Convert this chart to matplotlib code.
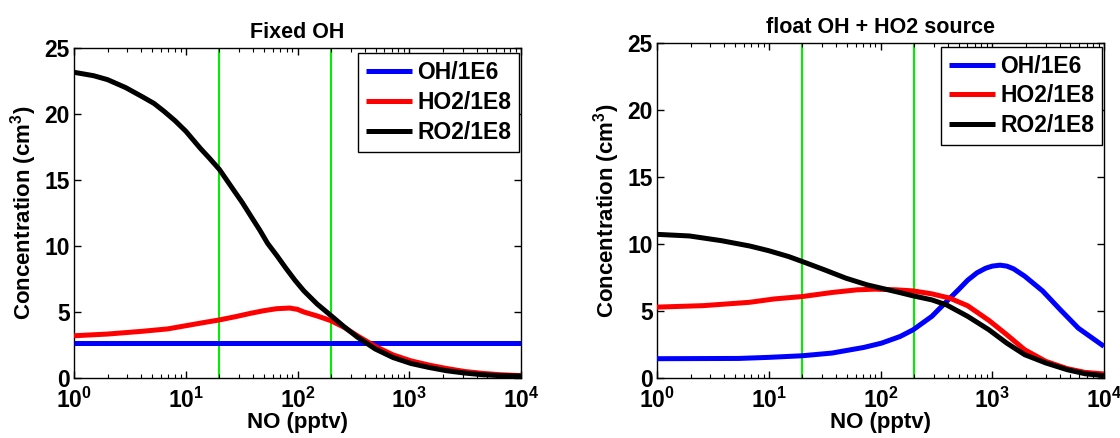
import matplotlib
matplotlib.use("Agg")
import matplotlib.pyplot as plt
import numpy as np

plt.rcParams['font.family'] = ['Liberation Sans', 'DejaVu Sans']
plt.rcParams['font.weight'] = 'bold'
plt.rcParams['mathtext.fontset'] = 'custom'
plt.rcParams['mathtext.rm'] = 'Liberation Sans:bold'
plt.rcParams['mathtext.bf'] = 'Liberation Sans:bold'
plt.rcParams['mathtext.it'] = 'Liberation Sans:bold'

# ---- data: left panel (Fixed OH) ----
left_ro2_x = [1, 1.5, 2, 2.9, 4.1, 5.2, 6.4, 8, 10, 13.5, 16.5, 20, 26, 32, 38, 46, 54, 65, 79, 95, 114, 150, 198, 260, 343, 496, 716, 1036, 1500, 2160, 3100, 4520, 6500, 10000]
left_ro2_y = [23.16, 22.9, 22.6, 22.0, 21.3, 20.8, 20.2, 19.5, 18.7, 17.4, 16.6, 15.8, 14.4, 13.3, 12.3, 11.2, 10.2, 9.3, 8.3, 7.4, 6.6, 5.6, 4.75, 3.9, 3.1, 2.2, 1.55, 1.1, 0.8, 0.55, 0.38, 0.25, 0.18, 0.15]
left_ho2_x = [1, 2, 4.1, 6.9, 10, 14.5, 20, 28, 38, 50, 65, 85, 100, 114, 150, 198, 260, 343, 496, 716, 1036, 1500, 2160, 3100, 4520, 6500, 10000]
left_ho2_y = [3.2, 3.33, 3.54, 3.72, 3.96, 4.2, 4.4, 4.65, 4.9, 5.1, 5.25, 5.3, 5.2, 5.0, 4.7, 4.35, 3.85, 3.2, 2.4, 1.75, 1.3, 0.98, 0.72, 0.5, 0.35, 0.25, 0.18]
left_oh_x = [1, 10000]
left_oh_y = [2.65, 2.65]

# ---- data: right panel (float OH + HO2 source) ----
right_ro2_x = [1, 1.95, 3.76, 6.76, 10, 15.1, 20, 31.6, 49, 76, 102, 148, 196, 288, 389, 603, 933, 1350, 1950, 3020, 4680, 6760, 10000]
right_ro2_y = [10.72, 10.6, 10.25, 9.85, 9.5, 9.06, 8.69, 8.07, 7.45, 6.95, 6.7, 6.38, 6.13, 5.83, 5.46, 4.6, 3.6, 2.6, 1.74, 1.12, 0.62, 0.32, 0.17]
right_ho2_x = [1, 2.6, 6.76, 11.2, 20, 36.7, 61.7, 89, 138, 196, 288, 417, 603, 933, 1350, 1950, 3020, 4680, 6760, 10000]
right_ho2_y = [5.29, 5.4, 5.65, 5.9, 6.08, 6.38, 6.58, 6.63, 6.58, 6.5, 6.28, 5.96, 5.39, 4.3, 3.23, 2.11, 1.24, 0.7, 0.42, 0.3]
right_oh_x = [1, 5.4, 10, 20, 36.7, 70.8, 102, 150, 196, 288, 389, 500, 603, 730, 871, 1000, 1175, 1350, 1550, 1950, 2820, 4070, 5890, 10000]
right_oh_y = [1.44, 1.46, 1.54, 1.66, 1.86, 2.28, 2.6, 3.1, 3.6, 4.6, 5.7, 6.6, 7.3, 7.85, 8.19, 8.35, 8.42, 8.35, 8.15, 7.6, 6.5, 5.09, 3.72, 2.36]

vlines_x = [20, 200]
titles = ["Fixed OH", "float OH + HO2 source"]
labels = ["OH/1E6", "HO2/1E8", "RO2/1E8"]
colors = ["#0000ff", "#ff0000", "#000000"]
xticks = [1, 10, 100, 1000, 10000]
xticklabels = [r'$\mathrm{10^{0}}$', r'$\mathrm{10^{1}}$', r'$\mathrm{10^{2}}$', r'$\mathrm{10^{3}}$', r'$\mathrm{10^{4}}$']
yticks = [0, 5, 10, 15, 20, 25]

fig = plt.figure(figsize=(11.2, 4.38), dpi=100)
W, H = 1120, 438
ax1 = fig.add_axes([74 / W, 1 - 378 / H, (521 - 74) / W, (378 - 48) / H])
ax2 = fig.add_axes([657 / W, 1 - 378 / H, (1104 - 657) / W, (378 - 43) / H])

fs = 16.5
panels = [
    (ax1, [(left_oh_x, left_oh_y), (left_ho2_x, left_ho2_y), (left_ro2_x, left_ro2_y)], titles[0], (362, 56, 515, 149)),
    (ax2, [(right_oh_x, right_oh_y), (right_ho2_x, right_ho2_y), (right_ro2_x, right_ro2_y)], titles[1], (945, 49, 1098, 143)),
]
for ax, series, title, legbox in panels:
    for xv in vlines_x:
        ax.axvline(xv, color="#00ee00", lw=1.5, zorder=1)
    for (xs, ys), lab, c in zip(series, labels, colors):
        ax.plot(xs, ys, color=c, lw=3.6, label=lab, zorder=3,
                solid_joinstyle='round', solid_capstyle='butt')
    ax.set_xscale('log')
    ax.set_xlim(1, 10000)
    ax.set_ylim(0, 25)
    ax.set_xticks(xticks)
    ax.set_xticklabels(xticklabels)
    ax.set_yticks(yticks)
    ax.tick_params(axis='both', which='both', direction='in', top=True, right=True, labelsize=fs)
    ax.tick_params(axis='x', which='major', pad=7)
    ax.tick_params(axis='y', which='major', pad=3)
    ax.tick_params(which='major', length=5, width=1)
    ax.tick_params(which='minor', length=3, width=0.8)
    for t in ax.get_yticklabels():
        t.set_fontweight('bold')
    ax.set_title(title, fontsize=15.5, fontweight='bold', pad=7)
    ax.set_xlabel("NO (pptv)", fontsize=16, fontweight='bold', labelpad=-1)
    ax.set_ylabel(r"Concentration (cm$^{3}$)", fontsize=16, fontweight='bold', labelpad=4)
    x0, y0, x1, y1 = legbox
    pos = ax.get_position()
    bx = (x0 / W - pos.x0) / pos.width
    by = ((1 - y1 / H) - pos.y0) / pos.height
    bw = (x1 - x0) / W / pos.width
    bh = (y1 - y0) / H / pos.height
    leg = ax.legend(loc='center', bbox_to_anchor=(bx, by, bw, bh), fontsize=16.5,
                    frameon=True, fancybox=False, edgecolor='black', framealpha=1,
                    handlelength=2.0, handletextpad=0.25, borderpad=0.35, labelspacing=0.3,
                    borderaxespad=0)
    leg.get_frame().set_linewidth(1.0)
    for t in leg.get_texts():
        t.set_fontweight('bold')
    for s in ax.spines.values():
        s.set_linewidth(1.0)

fig.savefig("out.png", dpi=100)
